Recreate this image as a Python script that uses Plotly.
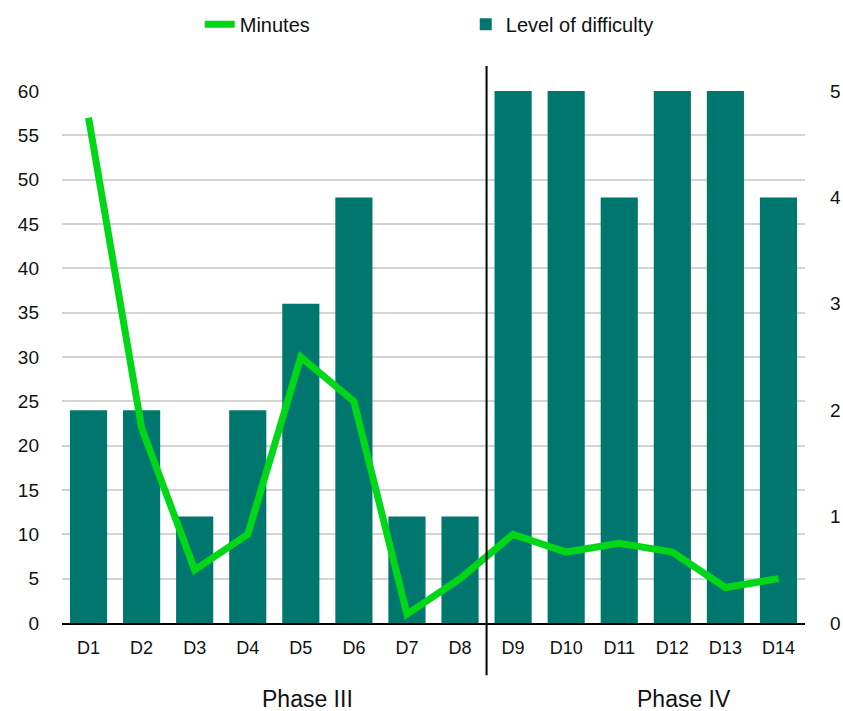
import plotly.graph_objects as go

# Daily session data across two training phases
days = ["D1", "D2", "D3", "D4", "D5", "D6", "D7", "D8",
        "D9", "D10", "D11", "D12", "D13", "D14"]
minutes = [57, 22, 6, 10, 30, 25, 1, 5, 10, 8, 9, 8, 4, 5]
difficulty = [2, 2, 1, 2, 3, 4, 1, 1, 5, 5, 4, 5, 5, 4]
phase_labels = ["Phase III", "Phase IV"]

minutes_ticks = list(range(0, 61, 5))
difficulty_ticks = list(range(0, 6))

TEAL = "#00776E"
GREEN = "#00D716"
FONT = "Liberation Sans, Arial, sans-serif"

fig = go.Figure()

# bars on the base (right-hand) axis so the minutes line, on the
# overlaying axis, is drawn on top of them
fig.add_trace(go.Bar(
    x=days, y=difficulty, name="Level of difficulty",
    marker=dict(color=TEAL, line=dict(width=0)),
    yaxis="y", width=0.7,
))

fig.add_trace(go.Scatter(
    x=days, y=minutes, name="Minutes", mode="lines",
    line=dict(color=GREEN, width=7),
    yaxis="y2",
))

# divider between the two phases
fig.add_shape(type="line", xref="x", yref="paper",
              x0=7.5, x1=7.5, y0=-0.098, y1=1.047,
              line=dict(color="black", width=2), layer="above")

for label, xc in zip(phase_labels, [0.331, 0.837]):
    fig.add_annotation(text=label, xref="paper", yref="paper",
                       x=xc, y=-0.142, showarrow=False,
                       xanchor="center", yanchor="middle",
                       font=dict(size=23, color="#111111", family=FONT))

fig.update_layout(
    width=843, height=711,
    margin=dict(l=62, r=38, t=91, b=88, autoexpand=False),
    paper_bgcolor="white", plot_bgcolor="white",
    font=dict(family=FONT, size=18, color="#111111"),
    bargap=0.3,
    showlegend=True,
    legend=dict(orientation="h", x=0.1854, xanchor="left",
                yref="container", y=0.966, yanchor="middle",
                traceorder="reversed",
                entrywidth=221,
                font=dict(size=20, family=FONT)),
    xaxis=dict(
        showgrid=False, showline=True, linecolor="black", linewidth=2,
        ticks="", tickfont=dict(size=18), ticklabelstandoff=7,
        range=[-0.5, 13.5],
    ),
    yaxis=dict(
        range=[0, 5], tickvals=difficulty_ticks,
        side="right", showgrid=False,
        zeroline=False, showline=False, ticks="",
        ticklabelstandoff=24, tickfont=dict(size=19),
    ),
    yaxis2=dict(
        range=[0, 60], tickvals=minutes_ticks,
        overlaying="y", side="left",
        showgrid=True, gridcolor="#D4D4D4", gridwidth=1.5,
        zeroline=False, showline=False, ticks="",
        ticklabelstandoff=22, tickfont=dict(size=19),
    ),
)

fig.write_html("out.html")
